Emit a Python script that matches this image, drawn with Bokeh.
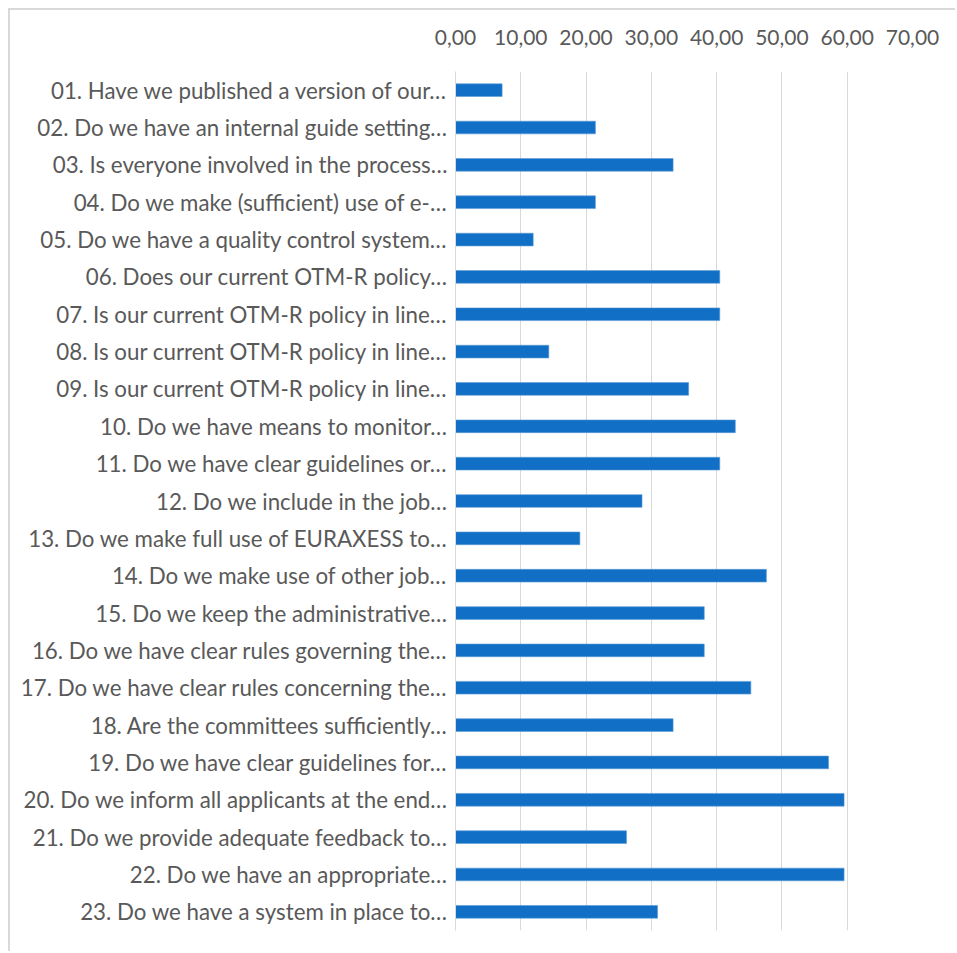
from bokeh.plotting import figure
from bokeh.models import FactorRange, FixedTicker, CustomJSTickFormatter, Range1d
from bokeh.embed import file_html
from bokeh.resources import INLINE

questions = [
    "01. Have we published a version of our…",
    "02. Do we have an internal guide setting…",
    "03. Is everyone involved in the process…",
    "04. Do we make (sufficient) use of e-…",
    "05. Do we have a quality control system…",
    "06. Does our current OTM-R policy…",
    "07. Is our current OTM-R policy in line…",
    "08. Is our current OTM-R policy in line…",
    "09. Is our current OTM-R policy in line…",
    "10. Do we have means to monitor…",
    "11. Do we have clear guidelines or…",
    "12. Do we include in the job…",
    "13. Do we make full use of EURAXESS to…",
    "14. Do we make use of other job…",
    "15. Do we keep the administrative…",
    "16. Do we have clear rules governing the…",
    "17. Do we have clear rules concerning the…",
    "18. Are the committees sufficiently…",
    "19. Do we have clear guidelines for…",
    "20. Do we inform all applicants at the end…",
    "21. Do we provide adequate feedback to…",
    "22. Do we have an appropriate…",
    "23. Do we have a system in place to…",
]
scores = [7.14, 21.43, 33.33, 21.43, 11.90, 40.48, 40.48, 14.29, 35.71, 42.86,
          40.48, 28.57, 19.05, 47.62, 38.10, 38.10, 45.24, 33.33, 57.14, 59.52,
          26.19, 59.52, 30.95]
x_ticks = [0, 10, 20, 30, 40, 50, 60, 70]

FONT = "Lato"
TXT = "#595959"
GRID = "#d9d9d9"

p = figure(
    width=947, height=943,
    y_range=FactorRange(*reversed(questions)),
    x_range=Range1d(0, 70),
    x_axis_location="above",
    output_backend="svg",
    toolbar_location=None,
    min_border_left=445, min_border_right=45,
    min_border_top=61, min_border_bottom=23,
)
p.margin = (8, 0, 0, 8)
p.styles = {"border-top": "2px solid #d9d9d9", "border-left": "2px solid #d9d9d9"}
p.outline_line_color = None
p.background_fill_color = "white"
p.border_fill_color = "white"

p.hbar(y=questions, right=scores, left=0, height=0.34,
       fill_color="#1170C6", line_color="#5B9BD5", line_width=0.6)

xa = p.xaxis[0]
xa.ticker = FixedTicker(ticks=x_ticks)
xa.formatter = CustomJSTickFormatter(code="return tick.toFixed(2).replace('.', ',');")
xa.axis_line_color = None
xa.major_tick_line_color = None
xa.minor_tick_line_color = None
xa.major_label_text_font = FONT
xa.major_label_text_font_size = "21px"
xa.major_label_text_color = TXT
xa.major_label_standoff = 21

ya = p.yaxis[0]
ya.axis_line_color = GRID
ya.axis_line_width = 1
ya.major_tick_line_color = None
ya.minor_tick_line_color = None
ya.major_label_text_font = FONT
ya.major_label_text_font_size = "22.3px"
ya.major_label_text_color = TXT
ya.major_label_standoff = 2

p.xgrid.grid_line_color = GRID
p.xgrid.grid_line_width = 1
p.ygrid.grid_line_color = None

open("out.html", "w").write(file_html(p, INLINE))
